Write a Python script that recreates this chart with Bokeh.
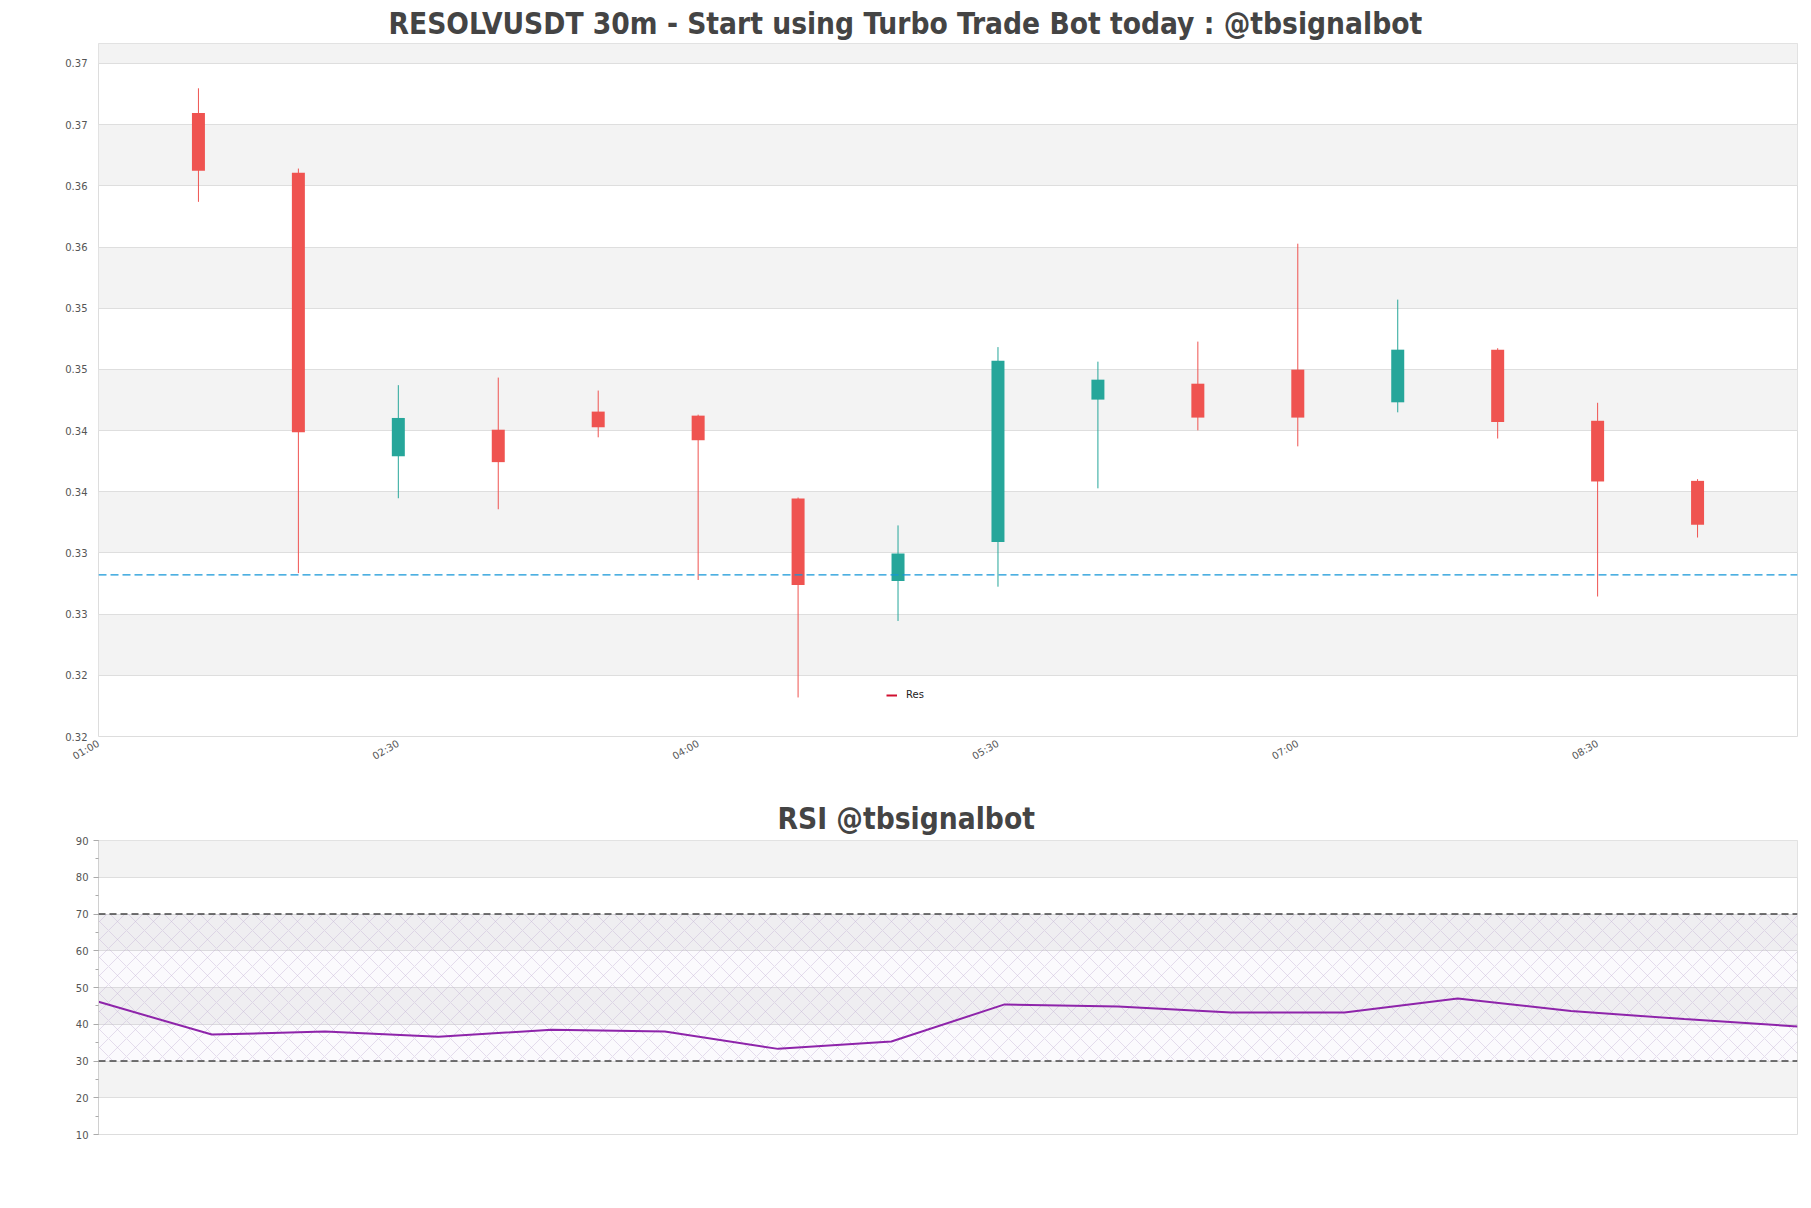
import numpy as np
import pandas as pd
from bokeh.plotting import figure
from bokeh.models import (FixedTicker, SingleIntervalTicker, Span, BoxAnnotation, Legend,
                          LegendItem, Title, ColumnDataSource, Range1d)
from bokeh.layouts import column
from bokeh.embed import file_html
from bokeh.resources import INLINE

# ---------------- data ----------------
times = ["01:30", "02:00", "02:30", "03:00", "03:30", "04:00", "04:30", "05:00",
         "05:30", "06:00", "06:30", "07:00", "07:30", "08:00", "08:30", "09:00"]
opens = [0.37095, 0.36607, 0.34290, 0.34507, 0.34655, 0.34622, 0.33945, 0.33270,
         0.33589, 0.34753, 0.34883, 0.34998, 0.34731, 0.35160, 0.34580, 0.34089]
highs = [0.37297, 0.36641, 0.34871, 0.34933, 0.34827, 0.34630, 0.33953, 0.33725,
         0.35182, 0.35063, 0.35227, 0.36027, 0.35570, 0.35173, 0.34727, 0.34103]
lows = [0.36369, 0.33335, 0.33947, 0.33857, 0.34445, 0.33279, 0.32319, 0.32944,
        0.33224, 0.34028, 0.34502, 0.34371, 0.34649, 0.34435, 0.33144, 0.33626]
closes = [0.36624, 0.34486, 0.34603, 0.34242, 0.34527, 0.34421, 0.33238, 0.33496,
          0.35070, 0.34916, 0.34606, 0.34606, 0.35161, 0.34571, 0.34084, 0.33730]
res_level = 0.33321
res_label = "Res"

x_tick_labels = ["01:00", "02:30", "04:00", "05:30", "07:00", "08:30"]
x_start, x_end = "01:00", "09:30"
y_ticks = [0.320, 0.325, 0.330, 0.335, 0.340, 0.345, 0.350, 0.355, 0.360, 0.365, 0.370, 0.375]
y_tick_labels = ["0.32", "0.32", "0.33", "0.33", "0.34", "0.34", "0.35", "0.35",
                 "0.36", "0.36", "0.37", "0.37"]
y_min, y_max = 0.320, 0.37663

rsi_values = [46.1, 37.2, 38.0, 36.6, 38.5, 38.0, 33.3, 35.3,
              45.4, 44.8, 43.2, 43.2, 47.0, 43.6, 41.4, 39.4]
rsi_low, rsi_high = 30, 70
rsi_min, rsi_max = 10, 90

main_title = "RESOLVUSDT 30m - Start using Turbo Trade Bot today : @tbsignalbot"
rsi_title = "RSI @tbsignalbot"

UP = "#26a69a"
DOWN = "#ef5350"


def to_hours(s):
    hh, mm = s.split(":")
    return int(hh) + int(mm) / 60.0


t = np.array([to_hours(s) for s in times])
o = np.array(opens)
c = np.array(closes)
colors = [UP if cc >= oo else DOWN for oo, cc in zip(o, c)]
src = ColumnDataSource(dict(
    t=t, high=highs, low=lows,
    top=np.maximum(o, c), bottom=np.minimum(o, c), color=colors))

W = 1805
TEXT = "#555555"
GRID = "#dedede"
BAND = "#f3f3f3"
FONT = "DejaVu Sans"
TFONT = "DejaVu Sans Condensed"

# ---------------- main chart ----------------
p = figure(width=W, height=786, output_backend="svg", toolbar_location=None,
           x_range=Range1d(to_hours(x_start), to_hours(x_end)),
           y_range=Range1d(y_min, y_max),
           min_border_left=98, min_border_right=8, min_border_top=43, min_border_bottom=50)
p.add_layout(Title(text=main_title, align="left", offset=290, text_font=TFONT,
                   text_font_size="29.6px", text_font_style="bold", text_color="#444444",
                   standoff=5), "above")
p.outline_line_color = "#dddddd"
p.background_fill_color = "white"
p.border_fill_color = "white"
p.xgrid.visible = False
p.ygrid.grid_line_color = GRID
p.ygrid.band_fill_color = BAND
p.ygrid.band_fill_alpha = 1.0

p.yaxis.ticker = FixedTicker(ticks=y_ticks)
p.yaxis.major_label_overrides = {tk: lb for tk, lb in zip(y_ticks, y_tick_labels)}
xt = [to_hours(s) for s in x_tick_labels]
p.xaxis.ticker = FixedTicker(ticks=xt)
p.xaxis.major_label_overrides = {tk: lb for tk, lb in zip(xt, x_tick_labels)}
p.xaxis.major_label_orientation = np.pi / 6
for ax in (p.xaxis, p.yaxis):
    ax.axis_line_color = None
    ax.major_tick_out = 0
    ax.major_tick_in = 0
    ax.minor_tick_out = 0
    ax.minor_tick_in = 0
    ax.major_label_text_font = FONT
    ax.major_label_text_font_size = "10px"
    ax.major_label_text_color = TEXT
p.yaxis.major_label_standoff = 11
p.xaxis.major_label_standoff = 6

p.segment(x0="t", y0="low", x1="t", y1="high", line_color="color", line_width=1, source=src)
p.vbar(x="t", width=0.065, top="top", bottom="bottom", fill_color="color",
       line_color=None, source=src)

p.add_layout(Span(location=res_level, dimension="width", line_color="#1596d8",
                  line_dash="8 4", line_width=1.4))
dummy = p.line(x=[np.nan], y=[np.nan], line_color="#d01030", line_width=2)
leg = Legend(items=[LegendItem(label=res_label, renderers=[dummy])], location=(788, 36),
             glyph_width=11, glyph_height=10, label_standoff=9, padding=0, margin=0,
             border_line_color=None, background_fill_alpha=0, label_text_font=FONT,
             label_text_font_size="10px", label_height=10, label_text_color="#222222")
p.add_layout(leg)

# ---------------- RSI chart ----------------
q = figure(width=W, height=388, output_backend="svg", toolbar_location=None,
           x_range=Range1d(0, len(rsi_values) - 1), y_range=Range1d(rsi_min, rsi_max),
           min_border_left=98, min_border_right=8, min_border_top=54, min_border_bottom=40)
q.add_layout(Title(text=rsi_title, align="left", offset=679, text_font=TFONT,
                   text_font_size="29.6px", text_font_style="bold", text_color="#444444",
                   standoff=9), "above")
q.outline_line_color = "#dddddd"
q.border_fill_color = "white"
q.xgrid.visible = False
q.xaxis.visible = False
q.ygrid.grid_line_color = GRID
q.ygrid.band_fill_color = BAND
q.ygrid.band_fill_alpha = 1.0
q.yaxis.ticker = SingleIntervalTicker(interval=10, num_minor_ticks=2)
q.yaxis.axis_line_color = "#d0d0d0"
q.yaxis.major_tick_out = 5
q.yaxis.major_tick_in = 0
q.yaxis.minor_tick_out = 3
q.yaxis.minor_tick_in = 0
q.yaxis.major_tick_line_color = "#aaaaaa"
q.yaxis.minor_tick_line_color = "#aaaaaa"
q.yaxis.major_label_standoff = 5
q.yaxis.major_label_text_font = FONT
q.yaxis.major_label_text_font_size = "10px"
q.yaxis.major_label_text_color = TEXT

q.add_layout(BoxAnnotation(bottom=rsi_low, top=rsi_high, fill_color="#b39ddb", fill_alpha=0.05,
                           hatch_pattern="diagonal_cross", hatch_color="#c4b2d4",
                           hatch_alpha=0.7, hatch_scale=18, hatch_weight=0.6,
                           line_color=None, level="underlay"))
for lv in (rsi_low, rsi_high):
    q.add_layout(Span(location=lv, dimension="width", line_color="#444444",
                      line_dash="7 4", line_width=1.3))
q.line(x=list(range(len(rsi_values))), y=rsi_values, line_color="#8e24aa", line_width=2)

layout = column(p, q, spacing=0)
open("out.html", "w").write(file_html(layout, INLINE))
